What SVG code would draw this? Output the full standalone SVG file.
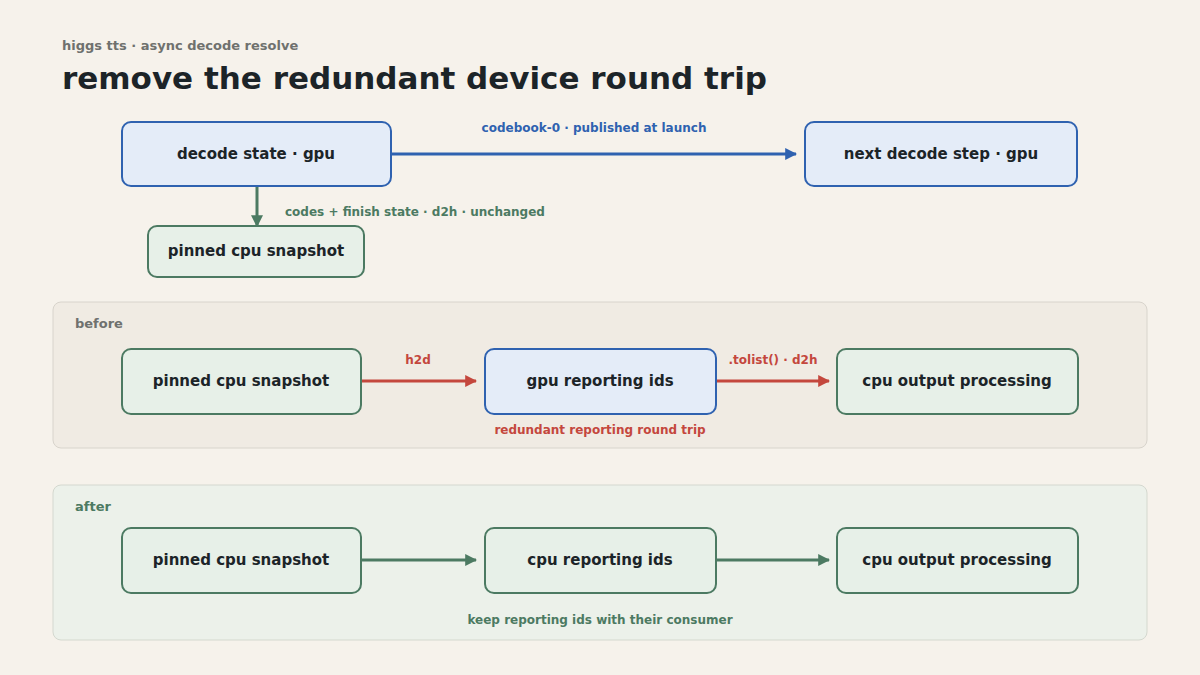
<svg xmlns="http://www.w3.org/2000/svg" width="1200" height="675" viewBox="0 0 1200 675">
<style>
text{font-family:"DejaVu Sans",sans-serif;font-weight:bold}
.gpu{fill:#e4ecf8;stroke:#2f62b0;stroke-width:2}
.cpu{fill:#e7f0e8;stroke:#4c7a62;stroke-width:2}
.nt{fill:#1c2428;font-size:15px;text-anchor:middle}
.lb{font-size:12px;text-anchor:middle}
</style>
<defs>
<marker id="ab" viewBox="0 0 10 10" refX="9" refY="5" markerWidth="4" markerHeight="4" orient="auto"><path d="M0,0L10,5L0,10z" fill="#2f62b0"/></marker>
<marker id="ag" viewBox="0 0 10 10" refX="9" refY="5" markerWidth="4" markerHeight="4" orient="auto"><path d="M0,0L10,5L0,10z" fill="#4c7a62"/></marker>
<marker id="ar" viewBox="0 0 10 10" refX="9" refY="5" markerWidth="4" markerHeight="4" orient="auto"><path d="M0,0L10,5L0,10z" fill="#c4473d"/></marker>
</defs>
<rect width="1200" height="675" fill="#f6f2eb"/>
<text x="62" y="50" font-size="13" fill="#6f716e">higgs tts · async decode resolve</text>
<text x="62" y="89" font-size="31" fill="#1c2428">remove the redundant device round trip</text>
<rect x="53" y="302" width="1094" height="146" rx="8" fill="#f0ebe3" stroke="#d8d4cc"/>
<text x="75" y="328" font-size="13" fill="#6f716e">before</text>
<rect x="53" y="485" width="1094" height="155" rx="8" fill="#ecf1ea" stroke="#d4d8cf"/>
<text x="75" y="511" font-size="13" fill="#4c7a62">after</text>
<g id="connectors" fill="none" stroke-width="3">
<line x1="392" y1="154" x2="796" y2="154" stroke="#2f62b0" marker-end="url(#ab)"/>
<line x1="257" y1="187" x2="257" y2="226" stroke="#4c7a62" marker-end="url(#ag)"/>
<line x1="362" y1="381" x2="476" y2="381" stroke="#c4473d" marker-end="url(#ar)"/>
<line x1="717" y1="381" x2="829" y2="381" stroke="#c4473d" marker-end="url(#ar)"/>
<line x1="362" y1="560" x2="476" y2="560" stroke="#4c7a62" marker-end="url(#ag)"/>
<line x1="717" y1="560" x2="829" y2="560" stroke="#4c7a62" marker-end="url(#ag)"/>
</g>
<text class="lb" x="594" y="132" fill="#2f62b0">codebook-0 · published at launch</text>
<text x="285" y="216" font-size="12" fill="#4c7a62">codes + finish state · d2h · unchanged</text>
<text class="lb" x="418" y="364" fill="#c4473d">h2d</text>
<text class="lb" x="773" y="364" fill="#c4473d">.tolist() · d2h</text>
<text class="lb" x="600" y="434" fill="#c4473d">redundant reporting round trip</text>
<text class="lb" x="600" y="624" fill="#4c7a62">keep reporting ids with their consumer</text>
<g id="n1"><rect class="gpu" x="122" y="122" width="269" height="64" rx="9"/><text class="nt" x="256" y="159">decode state · gpu</text></g>
<g id="n2"><rect class="gpu" x="805" y="122" width="272" height="64" rx="9"/><text class="nt" x="941" y="159">next decode step · gpu</text></g>
<g id="n3"><rect class="cpu" x="148" y="226" width="216" height="51" rx="9"/><text class="nt" x="256" y="256" font-size="13">pinned cpu snapshot</text></g>
<g id="n4"><rect class="cpu" x="122" y="349" width="239" height="65" rx="9"/><text class="nt" x="241" y="386">pinned cpu snapshot</text></g>
<g id="n5"><rect class="gpu" x="485" y="349" width="231" height="65" rx="9"/><text class="nt" x="600" y="386">gpu reporting ids</text></g>
<g id="n6"><rect class="cpu" x="837" y="349" width="241" height="65" rx="9"/><text class="nt" x="957" y="386">cpu output processing</text></g>
<g id="n7"><rect class="cpu" x="122" y="528" width="239" height="65" rx="9"/><text class="nt" x="241" y="565">pinned cpu snapshot</text></g>
<g id="n8"><rect class="cpu" x="485" y="528" width="231" height="65" rx="9"/><text class="nt" x="600" y="565">cpu reporting ids</text></g>
<g id="n9"><rect class="cpu" x="837" y="528" width="241" height="65" rx="9"/><text class="nt" x="957" y="565">cpu output processing</text></g>
</svg>
